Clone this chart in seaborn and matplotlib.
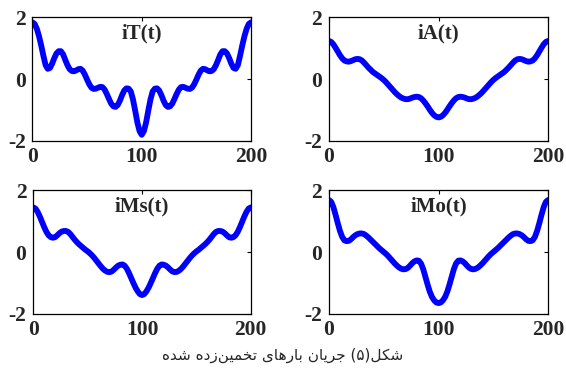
#!/usr/bin/env python3
"""
Estimated branch currents iT, iA, iMs, iMo over one period (2x2 panels)
"""

import numpy as np
import pandas as pd
import matplotlib
matplotlib.use('Agg')
import matplotlib.pyplot as plt
import seaborn as sns

# time axis (samples every 2 units)
t = np.arange(0, 201, 2)

# currents
iT = [1.83, 1.78, 1.62, 1.38, 1.08, 0.75, 0.45, 0.33, 0.36, 0.50, 0.68, 0.83, 0.90, 0.90, 0.80,
      0.62, 0.45, 0.32, 0.26, 0.25, 0.28, 0.32, 0.33, 0.27, 0.14, -0.02, -0.17, -0.28, -0.32, -0.31,
      -0.28, -0.25, -0.26, -0.34, -0.48, -0.64, -0.79, -0.88, -0.90, -0.84, -0.70, -0.52, -0.37, -0.30,
      -0.31, -0.40, -0.66, -1.02, -1.40, -1.68, -1.80,
      -1.68, -1.40, -1.02, -0.66, -0.40, -0.31, -0.30, -0.37, -0.52, -0.70, -0.84, -0.90, -0.88, -0.79,
      -0.64, -0.48, -0.34, -0.26, -0.25, -0.28, -0.31, -0.32, -0.28, -0.17, -0.02, 0.14, 0.27, 0.33,
      0.32, 0.28, 0.25, 0.26, 0.32, 0.45, 0.62, 0.80, 0.90, 0.90, 0.83, 0.68, 0.50, 0.36, 0.33, 0.45,
      0.75, 1.08, 1.38, 1.62, 1.78, 1.83]

iA = [1.23, 1.20, 1.12, 1.01, 0.89, 0.77, 0.67, 0.60, 0.57, 0.56, 0.58, 0.61, 0.64, 0.65, 0.64,
      0.60, 0.53, 0.45, 0.37, 0.30, 0.23, 0.18, 0.13, 0.08, 0.03, -0.03, -0.10, -0.18, -0.26, -0.34,
      -0.42, -0.49, -0.55, -0.60, -0.63, -0.65, -0.65, -0.63, -0.60, -0.58, -0.57, -0.58, -0.62, -0.69,
      -0.78, -0.88, -0.99, -1.09, -1.17, -1.22, -1.24,
      -1.22, -1.17, -1.09, -0.99, -0.88, -0.78, -0.69, -0.62, -0.58, -0.57, -0.58, -0.60, -0.63, -0.65,
      -0.65, -0.63, -0.60, -0.55, -0.49, -0.42, -0.34, -0.26, -0.18, -0.10, -0.03, 0.03, 0.08, 0.13,
      0.18, 0.23, 0.30, 0.37, 0.45, 0.53, 0.60, 0.64, 0.65, 0.64, 0.61, 0.58, 0.56, 0.57, 0.60, 0.67,
      0.77, 0.89, 1.01, 1.12, 1.20, 1.23]

iMs = [1.44, 1.40, 1.29, 1.14, 0.97, 0.80, 0.65, 0.54, 0.48, 0.46, 0.48, 0.54, 0.61, 0.66, 0.68,
       0.68, 0.65, 0.58, 0.49, 0.40, 0.32, 0.25, 0.19, 0.13, 0.07, 0.02, -0.04, -0.11, -0.19, -0.28,
       -0.37, -0.46, -0.54, -0.60, -0.64, -0.65, -0.63, -0.57, -0.50, -0.44, -0.41, -0.40, -0.44, -0.54,
       -0.68, -0.84, -1.00, -1.15, -1.27, -1.36, -1.39,
       -1.36, -1.27, -1.15, -1.00, -0.84, -0.68, -0.54, -0.44, -0.40, -0.41, -0.44, -0.50, -0.57, -0.63,
       -0.65, -0.64, -0.60, -0.54, -0.46, -0.37, -0.28, -0.19, -0.11, -0.04, 0.02, 0.07, 0.13, 0.19,
       0.25, 0.32, 0.40, 0.49, 0.58, 0.65, 0.68, 0.68, 0.66, 0.61, 0.54, 0.48, 0.46, 0.48, 0.54, 0.65,
       0.80, 0.97, 1.14, 1.29, 1.40, 1.44]

iMo = [1.68, 1.62, 1.45, 1.20, 0.93, 0.68, 0.49, 0.38, 0.35, 0.36, 0.41, 0.48, 0.54, 0.58, 0.60,
       0.60, 0.58, 0.53, 0.47, 0.40, 0.33, 0.26, 0.19, 0.12, 0.06, 0.00, -0.06, -0.13, -0.21, -0.29,
       -0.37, -0.44, -0.50, -0.54, -0.56, -0.55, -0.51, -0.44, -0.36, -0.30, -0.27, -0.28, -0.37, -0.55,
       -0.80, -1.05, -1.28, -1.45, -1.56, -1.63, -1.65,
       -1.63, -1.56, -1.45, -1.28, -1.05, -0.80, -0.55, -0.37, -0.28, -0.27, -0.30, -0.36, -0.44, -0.51,
       -0.55, -0.56, -0.54, -0.50, -0.44, -0.37, -0.29, -0.21, -0.13, -0.06, 0.00, 0.06, 0.12, 0.19,
       0.26, 0.33, 0.40, 0.47, 0.53, 0.58, 0.60, 0.60, 0.58, 0.54, 0.48, 0.41, 0.36, 0.35, 0.38, 0.49,
       0.68, 0.93, 1.20, 1.45, 1.62, 1.68]

titles = ['iT(t)', 'iA(t)', 'iMs(t)', 'iMo(t)']
series = [iT, iA, iMs, iMo]
xticks = [0, 100, 200]
yticks = [-2, 0, 2]
caption = 'شکل(۵) جریان بارهای تخمین\u200cزده شده'

# Persian shaping by hand (matplotlib has no bidi / joining)
DUAL = set('بتثجحخسشصضطظعغفقکگلمنهیپچ')
FORMS = {
    'ا': ('\uFE8D', '\uFE8E'),
    'د': ('\uFEA9', '\uFEAA'),
    'ر': ('\uFEAD', '\uFEAE'),
    'ز': ('\uFEAF', '\uFEB0'),
    'ب': ('\uFE8F', '\uFE90', '\uFE91', '\uFE92'),
    'ت': ('\uFE95', '\uFE96', '\uFE97', '\uFE98'),
    'ج': ('\uFE9D', '\uFE9E', '\uFE9F', '\uFEA0'),
    'خ': ('\uFEA5', '\uFEA6', '\uFEA7', '\uFEA8'),
    'ش': ('\uFEB5', '\uFEB6', '\uFEB7', '\uFEB8'),
    'ل': ('\uFEDD', '\uFEDE', '\uFEDF', '\uFEE0'),
    'م': ('\uFEE1', '\uFEE2', '\uFEE3', '\uFEE4'),
    'ن': ('\uFEE5', '\uFEE6', '\uFEE7', '\uFEE8'),
    'ه': ('\uFEE9', '\uFEEA', '\uFEEB', '\uFEEC'),
    'ک': ('\uFB8E', '\uFB8F', '\uFB90', '\uFB91'),
    'ی': ('\uFBFC', '\uFBFD', '\uFBFE', '\uFBFF'),
}
MIRROR = {'(': ')', ')': '('}


def shape_rtl(text):
    out = []
    for i, ch in enumerate(text):
        if ch not in FORMS:
            if ch != '\u200c':
                out.append(MIRROR.get(ch, ch))
            continue
        prev = text[i - 1] if i > 0 else ''
        nxt = text[i + 1] if i + 1 < len(text) else ''
        join_prev = prev in DUAL
        join_next = ch in DUAL and nxt in FORMS
        forms = FORMS[ch]
        if join_prev and join_next:
            out.append(forms[3])
        elif join_prev:
            out.append(forms[1])
        elif join_next:
            out.append(forms[2])
        else:
            out.append(forms[0])
    return ''.join(reversed(out))


sns.set_theme(style='white')
plt.rcParams['font.family'] = ['Liberation Serif', 'DejaVu Serif']
plt.rcParams['xtick.direction'] = 'in'
plt.rcParams['ytick.direction'] = 'in'

fig = plt.figure(figsize=(5.66, 3.72), dpi=100)

# axes boxes [left, bottom, width, height] in figure fractions
boxes = [
    [0.0574, 0.621, 0.386, 0.333],
    [0.5813, 0.621, 0.387, 0.333],
    [0.0590, 0.156, 0.384, 0.333],
    [0.5813, 0.156, 0.387, 0.333],
]

for box, name, vals in zip(boxes, titles, series):
    ax = fig.add_axes(box)
    df = pd.DataFrame({'t': t, 'i': vals})
    sns.lineplot(data=df, x='t', y='i', ax=ax, color='#0000ff', linewidth=4.2)
    ax.set_xlim(0, 200)
    ax.set_ylim(-2, 2)
    ax.set_xticks(xticks)
    ax.set_yticks(yticks)
    ax.set_xticklabels([str(v) for v in xticks], fontsize=15.5, fontweight='bold')
    ax.set_yticklabels([str(v) for v in yticks], fontsize=15.5, fontweight='bold')
    ax.tick_params(axis='both', which='both', direction='in', length=3, width=0.8,
                   top=True, right=True, color='black')
    ax.tick_params(axis='y', pad=5)
    ax.tick_params(axis='x', pad=4)
    ax.set_xlabel('')
    ax.set_ylabel('')
    for sp in ax.spines.values():
        sp.set_color('black')
        sp.set_linewidth(0.9)
    ax.text(0.5, 0.87, name, transform=ax.transAxes, ha='center', va='center',
            fontsize=15, fontweight='bold')

fig.text(0.5, 0.045, shape_rtl(caption), ha='center', va='center',
         fontsize=11, family=['DejaVu Sans'])

fig.savefig('out.png', dpi=100, facecolor='white')
plt.close(fig)
